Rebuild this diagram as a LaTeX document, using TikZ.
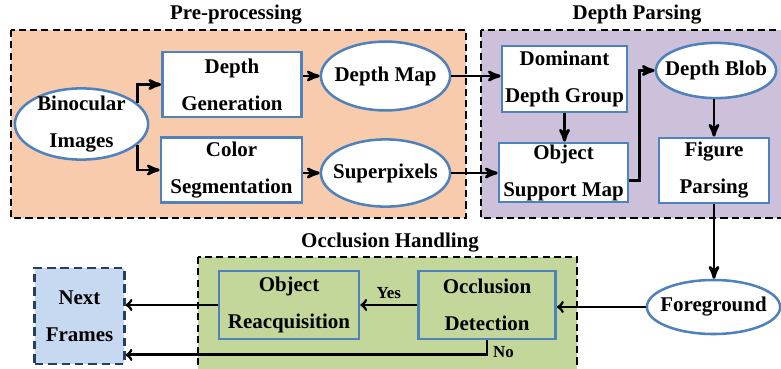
\documentclass[tikz,border=0pt]{standalone}
\usepackage{fontspec}
\setmainfont{Liberation Serif}
\usepackage{xcolor}
\usetikzlibrary{arrows,shapes.geometric}

\definecolor{prefill}{HTML}{F8CBAD}
\definecolor{parsefill}{HTML}{CCC0DA}
\definecolor{occlfill}{HTML}{C4D79B}
\definecolor{nextfill}{HTML}{C6D9F1}
\definecolor{nodeblue}{HTML}{4F81BD}
\definecolor{nextline}{HTML}{243F60}

\begin{document}
\begin{tikzpicture}[->,>=stealth',x=0.025cm,y=-0.025cm,line width=2pt,
                    font=\bfseries\fontsize{14.9}{26.3}\selectfont,
                    box node/.style={rectangle,draw=nodeblue,line width=1.8pt,fill=white,align=center,inner sep=0pt},
                    oval node/.style={ellipse,draw=nodeblue,line width=1.8pt,fill=white,align=center,inner sep=-6pt},
                    group box/.style={-,draw=black,line width=1.4pt,dash pattern=on 5pt off 3pt},
                    open tip/.style={-to}]
  \useasboundingbox (0,0) rectangle (781,368);

  % dashed stage frames
  \draw[group box,fill=prefill] (11,30) rectangle (466,218);
  \draw[group box,fill=parsefill] (481,30) rectangle (795,218);
  \draw[group box,fill=occlfill] (198,257) rectangle (577,380);
  \node (pre) at (236,15) {Pre-processing};
  \node (parse) at (637,15) {Depth Parsing};
  \node (occl) at (390,243) {Occlusion Handling};

  \node[oval node,minimum width=3.33cm,minimum height=1.78cm] (1) at (81.5,124) {Binocular\\Images};
  \node[box node,minimum width=3.48cm,minimum height=1.63cm] (2) at (232,84.5) {Depth\\Generation};
  \node[box node,minimum width=3.53cm,minimum height=1.63cm] (3) at (231.5,170) {Color\\Segmentation};
  \node[oval node,minimum width=3.23cm,minimum height=1.72cm] (4) at (385.5,76) {Depth Map};
  \node[oval node,minimum width=3.23cm,minimum height=1.68cm] (5) at (385.5,173) {Superpixels};
  \node[box node,minimum width=3.13cm,minimum height=1.65cm] (6) at (564.5,79) {Dominant\\Depth Group};
  \node[box node,minimum width=3.23cm,minimum height=1.48cm] (7) at (563.5,172.5) {Object\\Support Map};
  \node[oval node,minimum width=3cm,minimum height=1.38cm] (8) at (716,70.5) {Depth Blob};
  \node[box node,minimum width=2.75cm,minimum height=1.63cm] (9) at (714,170.5) {Figure\\Parsing};
  \node[oval node,minimum width=3.33cm,minimum height=1.35cm] (10) at (713.5,307) {Foreground};
  \node[box node,fill=none,minimum width=3.43cm,minimum height=1.7cm] (11) at (487,305) {Occlusion\\Detection};
  \node[box node,fill=none,minimum width=3.5cm,minimum height=1.7cm] (12) at (289,305) {Object\\Reacquisition};
  \node[rectangle,draw=nextline,fill=nextfill,line width=2pt,dash pattern=on 6pt off 3.5pt,
        align=center,inner sep=0pt,minimum width=2.23cm,minimum height=2.4cm] (13) at (79.5,316) {Next\\Frames};

  % pre-processing
  \draw (1.20) |- (2);
  \draw (1.-20) |- (3);
  \path (2.east |- 4) edge (4)
        (3.east |- 5) edge (5)
        (4.east) edge (4.east -| 6.west)
        (5.east) edge (5.east -| 7.west);

  % depth parsing
  \path (6.south) edge (6.south |- 7.north)
        (9.north |- 8.south) edge (9.north)
        (9.south) edge (9.south |- 10.north);
  \draw ([yshift=-5.7pt]7.east) -- ++(10,0) |- (8);

  % occlusion handling
  \path[open tip,every node/.style={font=\bfseries\fontsize{12}{14}\selectfont}]
    (10.west) edge (10.west -| 11.east)
    (11) edge node[above] {Yes} (12)
    (12.west) edge (12.west -| 13.east);
  \draw[open tip] (11.south) |- node[pos=0.4,right,font=\bfseries\fontsize{12}{14}\selectfont] {No}
    ([yshift=7.5pt]13.south east);
\end{tikzpicture}
\end{document}
